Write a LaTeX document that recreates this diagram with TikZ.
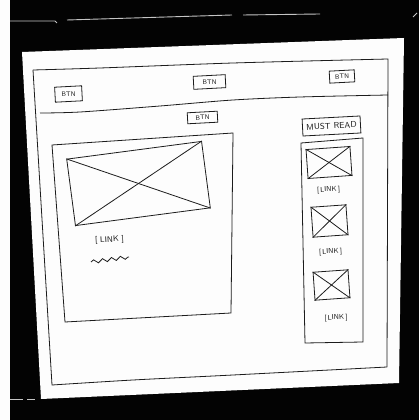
\documentclass[tikz,border=0pt]{standalone}
\usepackage{tikz}
\usetikzlibrary{decorations.pathmorphing}
\definecolor{wfink}{HTML}{1C1C1C}
\definecolor{wfpaper}{HTML}{FDFDFD}
\definecolor{wfdesk}{HTML}{030303}
\definecolor{wfglare}{HTML}{C4C4C4}

\begin{document}
\begin{tikzpicture}[
  x=1pt,y=1pt,
  ink/.style={draw=wfink,line width=0.8pt},
  btn/.style={ink,fill=wfpaper,inner sep=0pt,rotate=3,text=wfink,
              font=\sffamily\fontsize{6.5}{6.5}\selectfont},
  lnk/.style={inner sep=0pt,rotate=3,text=wfink,font=\sffamily\fontsize{7}{7}\selectfont},
  pic/.style={ink,inner sep=0pt,rotate=4},
  glare/.style={draw=wfglare,line width=0.9pt},
]
\useasboundingbox (0,0) rectangle (419,420);
\fill[wfdesk] (0,0) rectangle (419,420);
\fill[wfpaper] (0,0) rectangle (10,420);

% light streaks on the desk
\draw[glare] (10,399) -- (55,399) -- (57,397);
\draw[glare] (67,400) -- (232,405);
\draw[glare] (243,405) -- (320,406);
\draw[glare] (413,403) -- (417,407);
\draw[glare] (10,21) -- (23,21);
\draw[glare] (27,21) -- (35,21);

% sheet of paper
\fill[wfpaper] (22,368) -- (404,382) -- (399,37) -- (41,21) -- cycle;

% window frame and header
\draw[ink] plot[smooth] coordinates {(33,350) (100,352) (233,357) (388,361)}
  -- (387,53);
\draw[ink] plot[smooth] coordinates {(387,53) (233,45) (133,40) (52,35)}
  -- (33,350);
\draw[ink] plot[smooth] coordinates {(40,307) (80,308) (160,314) (233,320) (300,323) (388,325)};

\node[btn,minimum width=27,minimum height=15] (hbtn1) at (68.5,326) {BTN};
\node[btn,minimum width=32,minimum height=13] (hbtn2) at (209.5,338) {BTN};
\node[btn,minimum width=25,minimum height=12] (hbtn3) at (342,343.5) {BTN};
\node[btn,minimum width=30,minimum height=11] (cbtn) at (202.5,302.5) {BTN};

% main column
\draw[ink] (52,275) -- (233,287) -- (231,107) -- (65,98) -- cycle;
\node[pic,minimum width=136,minimum height=67,rotate=3.5] (mainpic) at (138.5,236.5) {};
\draw[ink] (mainpic.north west) -- (mainpic.south east);
\draw[ink] (mainpic.south west) -- (mainpic.north east);
\node[lnk,font=\sffamily\fontsize{8}{8}\selectfont] (mainlnk) at (109.5,180) {[\,\,LINK\,\,]};
\draw[ink,decorate,decoration={snake,segment length=9pt,amplitude=1.8pt}] (91,158) -- (129,163);

% must read column
\node[btn,minimum width=58,minimum height=17,font=\sffamily\fontsize{8.5}{8.5}\selectfont] (must) at (331.5,294) {MUST READ};
\draw[ink] (301,277) -- (363,282) -- (363,78) -- (305,77) -- cycle;

\node[pic,minimum width=44,minimum height=29] (side1) at (329,257.5) {};
\node[pic,minimum width=35,minimum height=30] (side2) at (329.5,199) {};
\node[pic,minimum width=35,minimum height=28] (side3) at (331.5,135) {};
\foreach \p in {side1,side2,side3} {
  \draw[ink] (\p.north west) -- (\p.south east);
  \draw[ink] (\p.south west) -- (\p.north east);
}
\node[lnk] (sidelnk1) at (328.5,230) {[\,LINK\,]};
\node[lnk] (sidelnk2) at (330.5,168) {[\,LINK\,]};
\node[lnk] (sidelnk3) at (336,102) {[\,LINK\,]};

\end{tikzpicture}
\end{document}
